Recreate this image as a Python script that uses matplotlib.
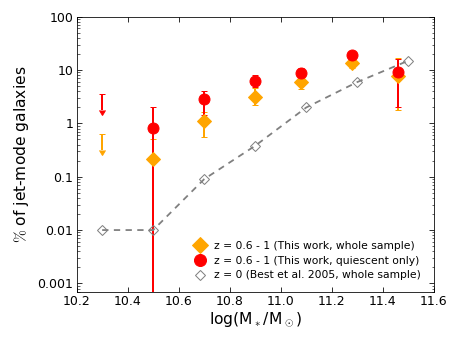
import matplotlib
matplotlib.use("Agg")
import matplotlib.pyplot as plt
from matplotlib.lines import Line2D
import numpy as np

# This work: stellar-mass bins
mass_bins = [10.3, 10.5, 10.7, 10.9, 11.08, 11.28, 11.46]

# Whole sample (orange)
whole_val = [0.63, 0.213, 1.1, 3.1, 5.83, 13.8, 7.8]
whole_err_lo = [0.31, 0.213, 0.535, 0.88, 1.45, 2.9, 6.06]
whole_err_hi = [0.0, 0.29, 0.5, 1.4, 2.1, 4.5, 8.9]

# Quiescent only (red)
quies_val = [3.5, 0.83, 2.85, 6.27, 8.75, 18.7, 9.25]
quies_err_lo = [1.7, 0.83, 1.4, 1.5, 2.0, 3.5, 7.2]
quies_err_hi = [0.0, 1.15, 1.27, 1.73, 2.15, 3.3, 6.95]

# first bin is an upper limit
upper_limit = [True, False, False, False, False, False, False]

# Best et al. 2005 (z = 0)
best_mass = [10.3, 10.5, 10.7, 10.9, 11.1, 11.3, 11.5]
best_val = [0.01, 0.01, 0.09, 0.38, 1.98, 5.93, 14.9]

labels = ["z = 0.6 - 1 (This work, whole sample)",
          "z = 0.6 - 1 (This work, quiescent only)",
          "z = 0 (Best et al. 2005, whole sample)"]
xticks = [10.2, 10.4, 10.6, 10.8, 11.0, 11.2, 11.4, 11.6]
ytick_vals = [0.001, 0.01, 0.1, 1, 10, 100]
ytick_labels = ["0.001", "0.01", "0.1", "1", "10", "100"]

plt.rcParams['font.family'] = ['DejaVu Sans']
plt.rcParams['mathtext.fontset'] = 'cm'

fig = plt.figure(figsize=(459 / 72, 346 / 72), dpi=72)
ax = fig.add_axes([0.167, 0.157, 0.778, 0.795])
ax.set_yscale('log')

def draw(vals, lo, hi, color, marker, ms):
    x = np.array(mass_bins)
    v = np.array(vals)
    lo = np.array(lo)
    hi = np.array(hi)
    ul = np.array(upper_limit)
    det = ~ul
    # upper limits
    ax.errorbar(x[ul], v[ul], yerr=[lo[ul], hi[ul]], uplims=True, fmt='none',
                color=color, ecolor=color, elinewidth=2, capsize=3, capthick=1,
                mec=color, mfc=color, zorder=2)
    # detections
    ax.errorbar(x[det], v[det], yerr=[lo[det], hi[det]], fmt=marker, color=color,
                ms=ms, mec=color, ecolor=color, elinewidth=2, capsize=3,
                capthick=1, zorder=2)

draw(whole_val, whole_err_lo, whole_err_hi, 'orange', 'D', 10)
draw(quies_val, quies_err_lo, quies_err_hi, 'red', 'o', 11)

ax.plot(best_mass, best_val, '--', color='gray', lw=1.8, marker='D', ms=7,
        mfc='none', mec='gray', mew=1, zorder=3, dashes=(3.5, 3))

handles = [
    Line2D([], [], ls='none', marker='D', ms=11, color='orange', mec='orange'),
    Line2D([], [], ls='none', marker='o', ms=12, color='red', mec='red'),
    Line2D([], [], ls='none', marker='D', ms=7, mfc='none', mec='gray', mew=1),
]

ax.set_xlim(10.2, 11.6)
ax.set_ylim(0.0007, 100)
ax.set_xticks(xticks)
ax.set_xticklabels([f"{t:.1f}" for t in xticks])
ax.set_yticks(ytick_vals)
ax.set_yticklabels(ytick_labels)
ax.tick_params(which='both', direction='in', top=True, right=True, labelsize=12.5)
ax.tick_params(which='major', length=5)
ax.tick_params(which='minor', length=2.5)
ax.tick_params(axis='x', which='minor', bottom=False, top=False)

ax.set_xlabel(r'log(M$_*$/M$_\odot$)', fontsize=15.5, labelpad=2)
ax.set_ylabel(r'$\%$ of jet-mode galaxies', fontsize=15.5, labelpad=6)

ax.legend(handles=handles, labels=labels, loc='lower right', frameon=False,
          fontsize=10.8, numpoints=1, handletextpad=0.6, labelspacing=0.42,
          bbox_to_anchor=(0.987, 0.01), handlelength=1.4, borderaxespad=0.4)

fig.savefig('out.png', dpi=72)
